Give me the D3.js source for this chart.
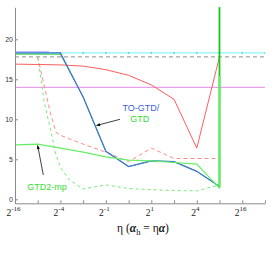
<!DOCTYPE html>
<html>
<head>
<meta charset="utf-8">
<script src="https://cdn.jsdelivr.net/npm/d3@7"></script>
<style>
  body { margin: 0; background: #fff; }
  svg { display: block; }
</style>
</head>
<body>
<div class="visHolder"></div>
<script>
const width = 277,
  height = 253;

// x positions are tick indices along the eta axis (12 ticks, 0..11)
const tickIdx = [0, 1, 2, 3, 4, 5, 6, 7, 8, 9, 10, 11];
const tickLabelIdx = [0, 2, 4, 6, 8, 10];
const tickExp = ["-16", "-4", "-1", "1", "4", "16"];
const yTicks = [0, 5, 10, 15, 20];

// flat reference levels
const cyanLevel = 18.3;
const grayLevel = 17.8;
const violetLevel = 14.0;

const lavX = [0, 1.5];
const lavY = [18.45, 18.45];

const gtdX = [0, 1, 2, 3, 4, 5, 6, 7, 8, 9, 9];
const gtdY = [18.15, 18.15, 18.15, 12.8, 6.0, 4.1, 4.8, 4.7, 3.5, 1.6, 26];

const toGtdX = [0, 1, 2, 3, 4, 5, 6, 7, 8, 9];
const toGtdY = [18.3, 18.3, 18.3, 12.8, 6.0, 4.1, 4.8, 4.7, 3.5, 1.6];

const gtd2mpX = [0, 1, 2, 3, 4, 5, 6, 7, 8, 9, 9];
const gtd2mpY = [6.8, 6.9, 6.4, 5.9, 5.3, 4.9, 4.8, 4.6, 4.4, 1.4, 15.4];

const redX = [0, 1, 2, 3, 4, 5, 6, 7, 8, 9];
const redY = [16.9, 16.85, 16.8, 16.65, 16.2, 15.5, 14.3, 12.5, 6.4, 17.8];

const redDashX = [1, 1.55, 1.8, 2, 3, 4, 5, 6, 7, 8, 9];
const redDashY = [17.8, 10.9, 8.4, 8.0, 6.9, 5.9, 4.7, 6.4, 5.1, 5.1, 5.1];

const greenDashX = [1, 1.3, 1.55, 1.8, 2, 2.4, 3, 4, 5, 6, 7, 8, 9];
const greenDashY = [17.8, 12.0, 8.9, 5.6, 4.0, 2.4, 1.3, 1.8, 1.35, 1.2, 1.1, 1.05, 1.8];

const svg = d3
  .select(".visHolder")
  .append("svg")
  .attr("width", width)
  .attr("height", height);

const xScale = d3.scaleLinear().domain([0, 11]).range([14.95, 264.95]);
const yScale = d3.scaleLinear().domain([-0.5, 24]).range([203.3, 7.3]);

svg
  .append("defs")
  .append("clipPath")
  .attr("id", "plotClip")
  .append("rect")
  .attr("x", 15)
  .attr("y", 7.3)
  .attr("width", 250)
  .attr("height", 196);

const arrowDef = svg
  .select("defs")
  .append("marker")
  .attr("id", "arrowHead")
  .attr("viewBox", "0 0 10 10")
  .attr("refX", 9)
  .attr("refY", 5)
  .attr("markerWidth", 6)
  .attr("markerHeight", 5)
  .attr("orient", "auto");
arrowDef.append("path").attr("d", "M0,1 L10,5 L0,9 Z").attr("fill", "#111");

const line = d3
  .line()
  .x((d) => xScale(d[0]))
  .y((d) => yScale(d[1]));

const plot = svg.append("g").attr("clip-path", "url(#plotClip)");

const drawSeries = (xs, ys, color, dash, w) => {
  plot
    .append("path")
    .datum(xs.map((x, i) => [x, ys[i]]))
    .attr("d", line)
    .attr("fill", "none")
    .attr("stroke", color)
    .attr("stroke-width", w || 1)
    .attr("stroke-dasharray", dash || null);
};

const levelLine = (v, color, dash) => {
  drawSeries([0, 11], [v, v], color, dash);
};

levelLine(violetLevel, "#e48ae4");
levelLine(cyanLevel, "#70f0f0");
plot
  .selectAll(".cyanDot")
  .data(tickIdx)
  .enter()
  .append("circle")
  .attr("class", "cyanDot")
  .attr("cx", (d) => xScale(d))
  .attr("cy", yScale(cyanLevel))
  .attr("r", 0.9)
  .attr("fill", "#4fd8d8");
levelLine(grayLevel, "#8c8c8c", "4,3");

drawSeries(lavX, lavY, "#b8b2f2");
drawSeries(redDashX, redDashY, "#ff8c8c", "4,3");
drawSeries(greenDashX, greenDashY, "#78ea78", "3,3");
drawSeries(redX, redY, "#ff5c5c");
drawSeries(gtdX, gtdY, "#18d018", null, 1);
drawSeries(toGtdX, toGtdY, "#4474dc", null, 1.25);
drawSeries(gtd2mpX, gtd2mpY, "#66ee66", null, 1.2);

// the diverging last step of the green series, drawn a bit heavier
drawSeries(gtdX.slice(-2), gtdY.slice(-2), "#18c818", null, 1.8);
drawSeries(gtd2mpX.slice(-2), gtd2mpY.slice(-2), "#66ee66", null, 1.8);

// axes
const yAxis = d3
  .axisLeft(yScale)
  .tickValues(yTicks)
  .tickSizeInner(-3)
  .tickSizeOuter(0)
  .tickPadding(2);

const xAxis = d3
  .axisBottom(xScale)
  .tickValues(tickIdx)
  .tickSizeInner(-3)
  .tickSizeOuter(0)
  .tickFormat("");

const yG = svg
  .append("g")
  .attr("id", "y-axis")
  .attr("transform", "translate(15,0)")
  .call(yAxis);

const xG = svg
  .append("g")
  .attr("id", "x-axis")
  .attr("transform", "translate(0,203.3)")
  .call(xAxis);

[yG, xG].forEach((g) => {
  g.selectAll("path, line").attr("stroke", "#8a8a8a");
});
yG.selectAll("text")
  .style("font-family", "'Liberation Sans', Arial, sans-serif")
  .style("font-size", "7px")
  .attr("fill", "#333");

const xLabels = svg
  .append("g")
  .selectAll("text")
  .data(tickLabelIdx)
  .enter()
  .append("text")
  .attr("x", (d) => xScale(d) - 1.5)
  .attr("y", 215.5)
  .attr("text-anchor", "middle")
  .style("font-family", "'Liberation Serif', 'Times New Roman', serif")
  .style("font-size", "9.5px")
  .attr("fill", "#222");
xLabels.append("tspan").text("2");
xLabels
  .append("tspan")
  .attr("dy", -4.5)
  .style("font-size", "7px")
  .text((d, i) => tickExp[i]);

// x axis title
const title = svg
  .append("text")
  .attr("x", 143)
  .attr("y", 232.3)
  .attr("text-anchor", "middle")
  .style("font-family", "'Liberation Serif', 'Times New Roman', serif")
  .style("font-size", "11.5px")
  .attr("fill", "#111");
title.append("tspan").text("η (");
title.append("tspan").style("font-weight", "bold").style("font-style", "italic").text("α");
title.append("tspan").attr("dy", 3).style("font-size", "8.5px").text("h");
title.append("tspan").attr("dy", -3).text(" = η");
title.append("tspan").style("font-weight", "bold").style("font-style", "italic").text("α");
title.append("tspan").text(")");

// annotations
svg
  .append("text")
  .attr("x", 140.8)
  .attr("y", 110.5)
  .attr("text-anchor", "middle")
  .style("font-family", "'Liberation Sans', Arial, sans-serif")
  .style("font-size", "9px")
  .attr("fill", "#3d5fd8")
  .text("TO-GTD/");

svg
  .append("text")
  .attr("x", 139.7)
  .attr("y", 121.7)
  .attr("text-anchor", "middle")
  .style("font-family", "'Liberation Sans', Arial, sans-serif")
  .style("font-size", "9px")
  .attr("fill", "#33dd33")
  .text("GTD");

svg
  .append("text")
  .attr("x", 47)
  .attr("y", 190)
  .attr("text-anchor", "middle")
  .style("font-family", "'Liberation Sans', Arial, sans-serif")
  .style("font-size", "9px")
  .attr("fill", "#33dd33")
  .text("GTD2-mp");

svg
  .append("line")
  .attr("x1", 120)
  .attr("y1", 119.3)
  .attr("x2", 96.5)
  .attr("y2", 125.5)
  .attr("stroke", "#111")
  .attr("stroke-width", 0.8)
  .attr("marker-end", "url(#arrowHead)");

svg
  .append("line")
  .attr("x1", 43.3)
  .attr("y1", 175)
  .attr("x2", xScale(1))
  .attr("y2", yScale(6.85) + 1)
  .attr("stroke", "#111")
  .attr("stroke-width", 0.8)
  .attr("marker-end", "url(#arrowHead)");
</script>
</body>
</html>
